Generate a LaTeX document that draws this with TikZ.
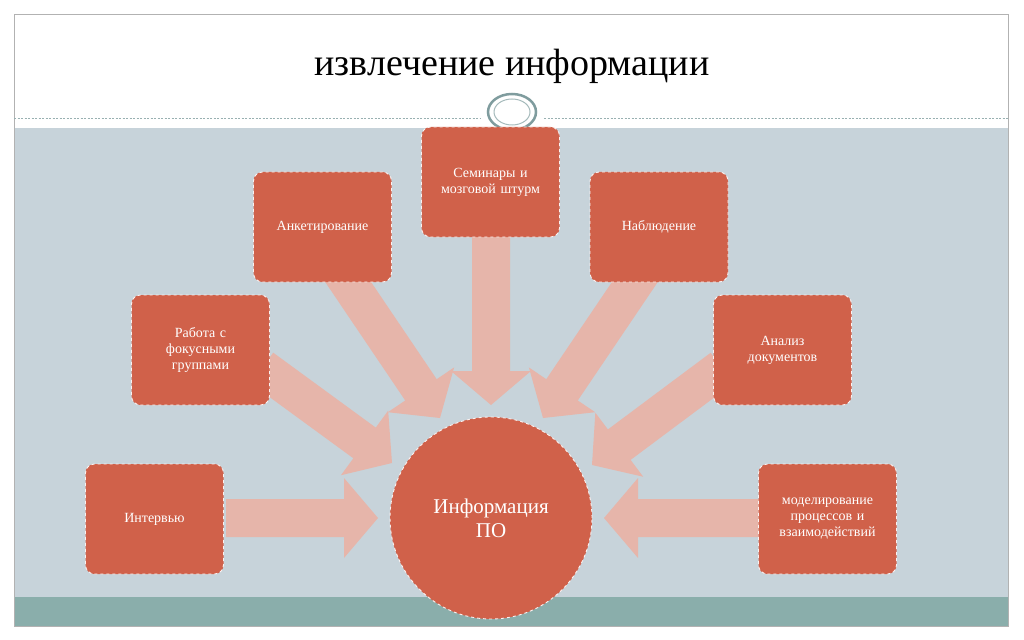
\documentclass[tikz,border=0pt]{standalone}
\usepackage{fontspec}
\setmainfont{Liberation Serif}
\usetikzlibrary{calc}
\definecolor{boxc}{HTML}{D0614A}
\definecolor{arrc}{HTML}{E6B5AA}
\definecolor{bgc}{HTML}{C7D3DA}
\definecolor{teal}{HTML}{8AAEAB}
\definecolor{ring}{HTML}{7F9C9E}
\tikzset{
  box/.style={draw=white!92!boxc, dashed, line width=0.9pt, fill=boxc, rounded corners=9pt,
    minimum width=138pt, minimum height=110pt, text width=120pt, align=center,
    text=white, font=\fontsize{14}{16}\selectfont},
  arr/.style={fill=arrc, draw=none}
}
\newcommand{\barrow}[2]{%
  \coordinate (H) at ($(#2)!34pt!(#1)$);
  \fill[arr] ($(#1)!19pt!90:(#2)$) -- ($(H)!19pt!-90:(#1)$) -- ($(H)!40pt!-90:(#1)$) -- (#2)
    -- ($(H)!40pt!90:(#1)$) -- ($(H)!19pt!90:(#1)$) -- ($(#1)!19pt!-90:(#2)$) -- cycle;}
\begin{document}
\begin{tikzpicture}[x=1pt,y=-1pt]
\useasboundingbox (0,0) rectangle (1024,639);
\fill[white] (0,0) rectangle (1024,639);
\fill[bgc] (14,128) rectangle (1008,597);
\fill[teal] (14,597) rectangle (1008,626);
\draw[gray!60, line width=0.8pt] (14,14) rectangle (1008,626);
\draw[ring!80, dashed, line width=0.6pt, dash pattern=on 2pt off 1.5pt] (14,118) -- (480,118) (544,118) -- (1008,118);
\draw[ring, line width=2.5pt] (512,112) ellipse [x radius=24, y radius=18];
\draw[ring!70, line width=1pt] (512,112) ellipse [x radius=18, y radius=13];
\node[font=\fontsize{38}{44}\selectfont] (title) at (512,66) {извлечение информации};

\coordinate (t1) at (378,518); \coordinate (s1) at (226,518);
\coordinate (t2) at (392,463); \coordinate (s2) at (262,368);
\coordinate (t3) at (440,418); \coordinate (s3) at (340,270);
\coordinate (t4) at (491,405); \coordinate (s4) at (491,236);
\coordinate (t5) at (543,418); \coordinate (s5) at (643,270);
\coordinate (t6) at (592,465); \coordinate (s6) at (722,368);
\coordinate (t7) at (604,518); \coordinate (s7) at (760,518);
\barrow{s1}{t1}\barrow{s2}{t2}\barrow{s3}{t3}\barrow{s4}{t4}
\barrow{s5}{t5}\barrow{s6}{t6}\barrow{s7}{t7}

\node[box] (b1) at (154.5,519) {Интервью};
\node[box] (b2) at (200.5,350) {Работа с\\фокусными\\группами};
\node[box] (b3) at (322.5,227) {Анкетирование};
\node[box] (b4) at (490.5,182) {Семинары и\\мозговой штурм};
\node[box] (b5) at (659,227) {Наблюдение};
\node[box] (b6) at (782.5,350) {Анализ\\документов};
\node[box] (b7) at (827.5,519) {моделирование\\процессов и\\взаимодействий};
\node[circle, fill=boxc, draw=white!92!boxc, dashed, line width=0.9pt, minimum size=202pt,
  text=white, align=center, font=\fontsize{21}{24}\selectfont] (c) at (491,518) {Информация\\ПО};
\end{tikzpicture}
\end{document}
